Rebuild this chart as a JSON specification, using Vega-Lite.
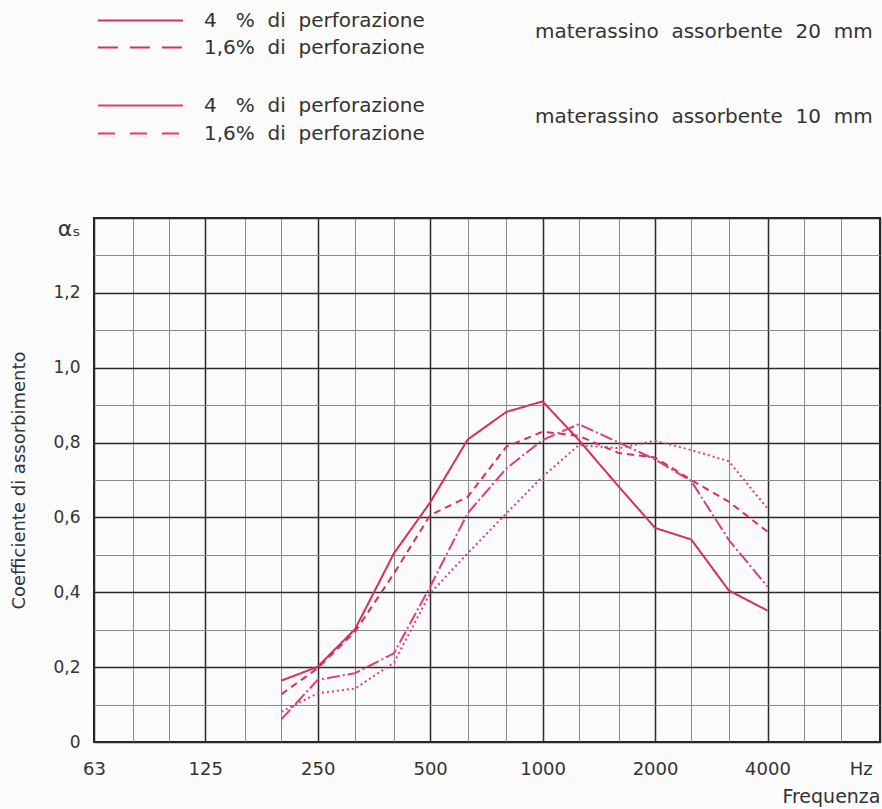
{
  "$schema": "https://vega.github.io/schema/vega-lite/v6.json",
  "autosize": "none",
  "width": 786,
  "height": 524,
  "padding": {"left": 94, "top": 218, "right": 2, "bottom": 67},
  "background": "#fbfbfb",
  "config": {
    "font": "DejaVu Sans",
    "view": {"stroke": "#222", "strokeWidth": 2},
    "axis": {"labelFont": "DejaVu Sans", "titleFont": "DejaVu Sans", "labelColor": "#333", "titleColor": "#333", "titleFontWeight": "normal"},
    "legend": {"labelFont": "DejaVu Sans", "titleFont": "DejaVu Sans", "padding": 0, "labelLimit": 0, "titleLimit": 0}
  },
  "data": {"values": [
    {"freq": 200, "alpha": 0.164, "perf": "4 % di perforazione", "mat": "20 mm"},
    {"freq": 250, "alpha": 0.201, "perf": "4 % di perforazione", "mat": "20 mm"},
    {"freq": 315, "alpha": 0.302, "perf": "4 % di perforazione", "mat": "20 mm"},
    {"freq": 400, "alpha": 0.504, "perf": "4 % di perforazione", "mat": "20 mm"},
    {"freq": 500, "alpha": 0.640, "perf": "4 % di perforazione", "mat": "20 mm"},
    {"freq": 630, "alpha": 0.808, "perf": "4 % di perforazione", "mat": "20 mm"},
    {"freq": 800, "alpha": 0.882, "perf": "4 % di perforazione", "mat": "20 mm"},
    {"freq": 1000, "alpha": 0.910, "perf": "4 % di perforazione", "mat": "20 mm"},
    {"freq": 1250, "alpha": 0.807, "perf": "4 % di perforazione", "mat": "20 mm"},
    {"freq": 1600, "alpha": 0.682, "perf": "4 % di perforazione", "mat": "20 mm"},
    {"freq": 2000, "alpha": 0.572, "perf": "4 % di perforazione", "mat": "20 mm"},
    {"freq": 2500, "alpha": 0.541, "perf": "4 % di perforazione", "mat": "20 mm"},
    {"freq": 3150, "alpha": 0.405, "perf": "4 % di perforazione", "mat": "20 mm"},
    {"freq": 4000, "alpha": 0.351, "perf": "4 % di perforazione", "mat": "20 mm"},
    {"freq": 200, "alpha": 0.128, "perf": "1,6% di perforazione", "mat": "20 mm"},
    {"freq": 250, "alpha": 0.197, "perf": "1,6% di perforazione", "mat": "20 mm"},
    {"freq": 315, "alpha": 0.295, "perf": "1,6% di perforazione", "mat": "20 mm"},
    {"freq": 400, "alpha": 0.450, "perf": "1,6% di perforazione", "mat": "20 mm"},
    {"freq": 500, "alpha": 0.606, "perf": "1,6% di perforazione", "mat": "20 mm"},
    {"freq": 630, "alpha": 0.655, "perf": "1,6% di perforazione", "mat": "20 mm"},
    {"freq": 800, "alpha": 0.789, "perf": "1,6% di perforazione", "mat": "20 mm"},
    {"freq": 1000, "alpha": 0.829, "perf": "1,6% di perforazione", "mat": "20 mm"},
    {"freq": 1250, "alpha": 0.818, "perf": "1,6% di perforazione", "mat": "20 mm"},
    {"freq": 1600, "alpha": 0.772, "perf": "1,6% di perforazione", "mat": "20 mm"},
    {"freq": 2000, "alpha": 0.760, "perf": "1,6% di perforazione", "mat": "20 mm"},
    {"freq": 2500, "alpha": 0.700, "perf": "1,6% di perforazione", "mat": "20 mm"},
    {"freq": 3150, "alpha": 0.642, "perf": "1,6% di perforazione", "mat": "20 mm"},
    {"freq": 4000, "alpha": 0.562, "perf": "1,6% di perforazione", "mat": "20 mm"},
    {"freq": 200, "alpha": 0.061, "perf": "4 % di perforazione", "mat": "10 mm"},
    {"freq": 250, "alpha": 0.166, "perf": "4 % di perforazione", "mat": "10 mm"},
    {"freq": 315, "alpha": 0.184, "perf": "4 % di perforazione", "mat": "10 mm"},
    {"freq": 400, "alpha": 0.237, "perf": "4 % di perforazione", "mat": "10 mm"},
    {"freq": 500, "alpha": 0.415, "perf": "4 % di perforazione", "mat": "10 mm"},
    {"freq": 630, "alpha": 0.611, "perf": "4 % di perforazione", "mat": "10 mm"},
    {"freq": 800, "alpha": 0.731, "perf": "4 % di perforazione", "mat": "10 mm"},
    {"freq": 1000, "alpha": 0.807, "perf": "4 % di perforazione", "mat": "10 mm"},
    {"freq": 1250, "alpha": 0.849, "perf": "4 % di perforazione", "mat": "10 mm"},
    {"freq": 1600, "alpha": 0.800, "perf": "4 % di perforazione", "mat": "10 mm"},
    {"freq": 2000, "alpha": 0.755, "perf": "4 % di perforazione", "mat": "10 mm"},
    {"freq": 2500, "alpha": 0.697, "perf": "4 % di perforazione", "mat": "10 mm"},
    {"freq": 3150, "alpha": 0.540, "perf": "4 % di perforazione", "mat": "10 mm"},
    {"freq": 4000, "alpha": 0.415, "perf": "4 % di perforazione", "mat": "10 mm"},
    {"freq": 200, "alpha": 0.081, "perf": "1,6% di perforazione", "mat": "10 mm"},
    {"freq": 250, "alpha": 0.130, "perf": "1,6% di perforazione", "mat": "10 mm"},
    {"freq": 315, "alpha": 0.143, "perf": "1,6% di perforazione", "mat": "10 mm"},
    {"freq": 400, "alpha": 0.212, "perf": "1,6% di perforazione", "mat": "10 mm"},
    {"freq": 500, "alpha": 0.397, "perf": "1,6% di perforazione", "mat": "10 mm"},
    {"freq": 630, "alpha": 0.504, "perf": "1,6% di perforazione", "mat": "10 mm"},
    {"freq": 800, "alpha": 0.611, "perf": "1,6% di perforazione", "mat": "10 mm"},
    {"freq": 1000, "alpha": 0.709, "perf": "1,6% di perforazione", "mat": "10 mm"},
    {"freq": 1250, "alpha": 0.793, "perf": "1,6% di perforazione", "mat": "10 mm"},
    {"freq": 1600, "alpha": 0.785, "perf": "1,6% di perforazione", "mat": "10 mm"},
    {"freq": 2000, "alpha": 0.805, "perf": "1,6% di perforazione", "mat": "10 mm"},
    {"freq": 2500, "alpha": 0.780, "perf": "1,6% di perforazione", "mat": "10 mm"},
    {"freq": 3150, "alpha": 0.750, "perf": "1,6% di perforazione", "mat": "10 mm"},
    {"freq": 4000, "alpha": 0.624, "perf": "1,6% di perforazione", "mat": "10 mm"}
  ]},
  "encoding": {
    "x": {
      "field": "freq", "type": "quantitative",
      "scale": {"type": "log", "domain": [63, 8000], "nice": false},
      "axis": {
        "values": [63, 80, 100, 125, 160, 200, 250, 315, 400, 500, 630, 800, 1000, 1250, 1600, 2000, 2500, 3150, 4000, 5000, 6300, 7100, 8000],
        "labelExpr": "datum.value == 7100 ? 'Hz' : (indexof([63,125,250,500,1000,2000,4000], datum.value) >= 0 ? '' + datum.value : '')",
        "grid": true,
        "gridColor": {"condition": {"test": "indexof([63,125,250,500,1000,2000,4000,8000], datum.value) >= 0", "value": "#2a2a2a"}, "value": "#8a8a8a"},
        "gridWidth": {"condition": {"test": "indexof([63,125,250,500,1000,2000,4000,8000], datum.value) >= 0", "value": 1.5}, "value": 1},
        "gridOpacity": {"condition": {"test": "datum.value == 7100", "value": 0}, "value": 1},
        "ticks": false, "domain": false,
        "labelFontSize": 18, "labelPadding": 18, "labelFlush": false, "labelOverlap": false, "labelBound": false,
        "title": "Frequenza", "titleFontSize": 19, "titleAnchor": "end", "titlePadding": 9
      }
    },
    "y": {
      "field": "alpha", "type": "quantitative",
      "scale": {"domain": [0, 1.4], "nice": false},
      "axis": {
        "values": [0, 0.1, 0.2, 0.3, 0.4, 0.5, 0.6, 0.7, 0.8, 0.9, 1.0, 1.1, 1.2, 1.3, 1.4],
        "labelExpr": "datum.value > 1.35 ? 'αₛ' : (round(datum.value * 10) % 2 == 0 ? (datum.value == 0 ? '0' : replace(format(datum.value, '.1f'), '.', ',')) : '')",
        "labelBaseline": {"condition": {"test": "datum.value > 1.35", "value": "top"}, "value": "middle"},
        "labelFontSize": {"condition": {"test": "datum.value > 1.35", "value": 22}, "value": 17},
        "grid": true,
        "gridColor": {"condition": {"test": "round(datum.value * 10) % 2 == 0", "value": "#2a2a2a"}, "value": "#8a8a8a"},
        "gridWidth": {"condition": {"test": "round(datum.value * 10) % 2 == 0", "value": 1.5}, "value": 1},
        "ticks": false, "domain": false,
        "labelPadding": 14, "labelOverlap": false, "labelBound": false,
        "title": "Coefficiente di assorbimento", "titleFontSize": 18, "titlePadding": 24
      }
    }
  },
  "layer": [
    {
      "transform": [{"filter": "datum.mat == '20 mm'"}],
      "encoding": {
        "color": {
          "field": "perf", "type": "nominal",
          "scale": {"domain": ["4 % di perforazione", "1,6% di perforazione"], "range": ["#d62f5a", "#d62f5a"]},
          "legend": {
            "orient": "none", "legendX": 32, "legendY": -212, "direction": "vertical",
            "title": "materassino\u00a0 assorbente\u00a0 20\u00a0 mm", "titleOrient": "right", "titleAnchor": "middle", "titleBaseline": "middle",
            "titleFontSize": 20, "titleFontWeight": "normal", "titleColor": "#333", "titlePadding": 110,
            "labelFontSize": 20, "labelColor": "#333", "labelOffset": 49,
            "labelExpr": "replace(replace(datum.label, ' di ', '\u00a0\u00a0di\u00a0\u00a0'), ' %', '\u00a0\u00a0\u00a0%')",
            "symbolSize": 729, "symbolStrokeWidth": 2, "rowPadding": 2,
            "encode": {"symbols": {"update": {
              "shape": {"value": "M-3.15,0H3.15"},
              "strokeDash": {"signal": "indexof(datum.value, '1,6') >= 0 ? [20, 12] : [1, 0]"}
            }}}
          }
        }
      },
      "layer": [
        {
          "transform": [{"filter": "datum.perf == '4 % di perforazione'"}],
          "mark": {"type": "line", "strokeWidth": 2, "strokeDash": [1, 0]}
        },
        {
          "transform": [{"filter": "datum.perf == '1,6% di perforazione'"}],
          "mark": {"type": "line", "strokeWidth": 2, "strokeDash": [7, 5]}
        }
      ]
    },
    {
      "transform": [{"filter": "datum.mat == '10 mm'"}],
      "encoding": {
        "color": {
          "field": "perf", "type": "nominal",
          "scale": {"domain": ["4 % di perforazione", "1,6% di perforazione"], "range": ["#df3d78", "#df3d78"]},
          "legend": {
            "orient": "none", "legendX": 32, "legendY": -127, "direction": "vertical",
            "title": "materassino\u00a0 assorbente\u00a0 10\u00a0 mm", "titleOrient": "right", "titleAnchor": "middle", "titleBaseline": "middle",
            "titleFontSize": 20, "titleFontWeight": "normal", "titleColor": "#333", "titlePadding": 110,
            "labelFontSize": 20, "labelColor": "#333", "labelOffset": 49,
            "labelExpr": "replace(replace(datum.label, ' di ', '\u00a0\u00a0di\u00a0\u00a0'), ' %', '\u00a0\u00a0\u00a0%')",
            "symbolSize": 729, "symbolStrokeWidth": 2, "rowPadding": 3,
            "encode": {"symbols": {"update": {
              "shape": {"value": "M-3.15,0H3.15"},
              "strokeDash": {"signal": "indexof(datum.value, '1,6') >= 0 ? [17, 15] : [1, 0]"}
            }}}
          }
        }
      },
      "layer": [
        {
          "transform": [{"filter": "datum.perf == '4 % di perforazione'"}],
          "mark": {"type": "line", "strokeWidth": 2, "strokeDash": [13, 3, 2, 3]}
        },
        {
          "transform": [{"filter": "datum.perf == '1,6% di perforazione'"}],
          "mark": {"type": "line", "strokeWidth": 2, "strokeDash": [2, 3]}
        }
      ]
    }
  ],
  "resolve": {"scale": {"color": "independent"}, "legend": {"color": "independent"}}
}
